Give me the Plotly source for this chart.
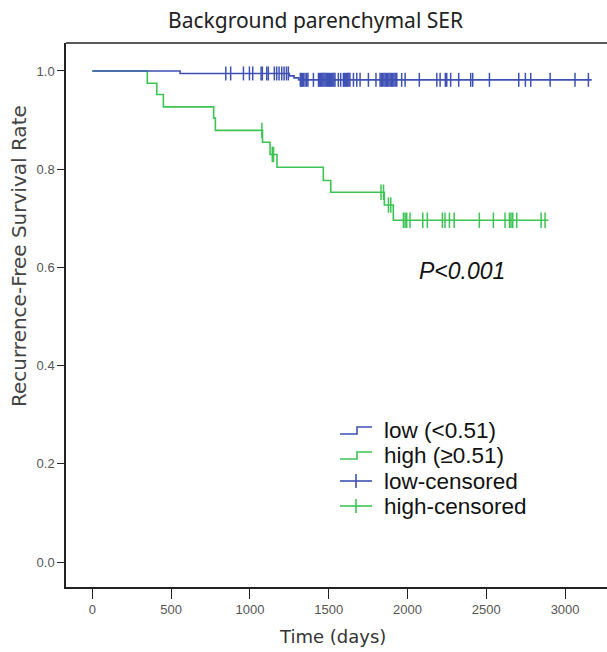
import numpy as np
import plotly.graph_objects as go

# ---------------- data ----------------
low_event_times = [0, 557, 1250, 1280, 1310]
low_levels = [1.0, 0.995, 0.990, 0.986, 0.982]
low_end = 3169
low_censor_times = [
    847, 878, 959, 997, 1018, 1071, 1079, 1107, 1117, 1155, 1170, 1185, 1202, 1217, 1232, 1244,
    1320, 1326, 1333, 1340, 1350, 1360, 1368, 1403,
    1435, 1442, 1449, 1456, 1463, 1470, 1477, 1484, 1491, 1498, 1505, 1512, 1519, 1526, 1533, 1540,
    1561, 1576, 1593, 1600, 1607, 1614, 1621, 1628, 1635, 1657, 1678, 1699, 1752, 1800,
    1826, 1834, 1842, 1850, 1858, 1866, 1874, 1882, 1890, 1898, 1906, 1914, 1922, 1932, 1963, 1985,
    2075, 2186, 2207, 2240, 2249, 2274, 2325, 2401, 2414, 2520, 2706, 2748, 2782, 2905, 3063, 3148,
]

high_event_times = [0, 349, 409, 451, 770, 781, 1080, 1128, 1172, 1466, 1513, 1853, 1910]
high_levels = [1.0, 0.975, 0.952, 0.927, 0.904, 0.879, 0.855, 0.830, 0.804, 0.777, 0.753, 0.727, 0.696]
high_end = 2894
high_censor_times = [
    1076, 1142, 1150, 1832, 1848, 1879, 1894,
    1974, 1985, 1995, 2016, 2097, 2126, 2221, 2238, 2266, 2296,
    2456, 2545, 2619, 2647, 2657, 2668, 2693, 2848, 2873,
]

x_ticks = [0, 500, 1000, 1500, 2000, 2500, 3000]
y_ticks = [0.0, 0.2, 0.4, 0.6, 0.8, 1.0]

title_text = "Background parenchymal SER"
x_title = "Time (days)"
y_title = "Recurrence-Free Survival Rate"
legend_labels = ["low (<0.51)", "high (\u22650.51)", "low-censored", "high-censored"]
p_text = "P<0.001"

BLUE = "#3f51b5"
GREEN = "#3cc453"


def step_xy(times, levels, end):
    xs = list(times) + [end]
    ys = list(levels) + [levels[-1]]
    return xs, ys


def level_at(times, levels, t):
    i = np.searchsorted(np.asarray(times), t, side="right") - 1
    return levels[max(i, 0)]


fig = go.Figure()

lx, ly = step_xy(low_event_times, low_levels, low_end)
hx, hy = step_xy(high_event_times, high_levels, high_end)

fig.add_trace(go.Scatter(x=hx, y=hy, mode="lines", line=dict(color=GREEN, width=1.6, shape="hv"),
                         name=legend_labels[1]))
fig.add_trace(go.Scatter(x=lx, y=ly, mode="lines", line=dict(color=BLUE, width=1.6, shape="hv"),
                         name=legend_labels[0]))

fig.add_trace(go.Scatter(
    x=low_censor_times,
    y=[level_at(low_event_times, low_levels, t) for t in low_censor_times],
    mode="markers",
    marker=dict(symbol="line-ns-open", size=10, color=BLUE, line=dict(color=BLUE, width=1.5)),
    name=legend_labels[2]))
fig.add_trace(go.Scatter(
    x=high_censor_times,
    y=[level_at(high_event_times, high_levels, t) for t in high_censor_times],
    mode="markers",
    marker=dict(symbol="line-ns-open", size=11, color=GREEN, line=dict(color=GREEN, width=1.5)),
    name=legend_labels[3]))

# ---------------- layout ----------------
W, H = 607, 652
L, R, T, B = 66, 0, 43, 65


def px(x):
    return (x - L) / (W - L - R)


def py(y):
    return (H - B - y) / (H - T - B)


shapes = []
# top frame line
shapes.append(dict(type="line", xref="paper", yref="paper", x0=0, x1=1, y0=1, y1=1,
                   line=dict(color="#222", width=1.5)))

# legend glyphs
rows_y = [430, 455, 481, 506]
colors = [BLUE, GREEN, BLUE, GREEN]
x0, xm, x1 = 340, 357, 372
for i, yy in enumerate(rows_y):
    c = colors[i]
    if i < 2:
        pts = [(x0, yy + 4), (xm, yy + 4), (xm, yy - 3), (x1, yy - 3)]
        path = "M " + " L ".join(f"{px(a)},{py(b)}" for a, b in pts)
        shapes.append(dict(type="path", xref="paper", yref="paper", path=path,
                           line=dict(color=c, width=1.6)))
    else:
        shapes.append(dict(type="line", xref="paper", yref="paper", x0=px(x0), x1=px(x1),
                           y0=py(yy), y1=py(yy), line=dict(color=c, width=1.6)))
        shapes.append(dict(type="line", xref="paper", yref="paper", x0=px(xm - 1), x1=px(xm - 1),
                           y0=py(yy - 7), y1=py(yy + 7), line=dict(color=c, width=1.6)))

annotations = []
for lab, yy in zip(legend_labels, rows_y):
    annotations.append(dict(text=lab, xref="paper", yref="paper", x=px(382), y=py(yy),
                            xanchor="left", yanchor="middle", showarrow=False,
                            font=dict(family="Liberation Sans, Arial", size=22.5, color="#111")))

annotations.append(dict(text=title_text, xref="paper", yref="paper", x=px(315), y=py(20),
                        xanchor="center", yanchor="middle", showarrow=False,
                        font=dict(family="Noto Sans", size=21, color="#222")))
annotations.append(dict(text=x_title, xref="paper", yref="paper", x=px(332), y=py(636),
                        xanchor="center", yanchor="middle", showarrow=False,
                        font=dict(family="DejaVu Sans", size=18, color="#333")))
annotations.append(dict(text=y_title, xref="paper", yref="paper", x=px(19), y=py(256),
                        xanchor="center", yanchor="middle", showarrow=False, textangle=-90,
                        font=dict(family="DejaVu Sans", size=20, color="#444")))
annotations.append(dict(text="<i>" + p_text + "</i>", x=2349, y=0.593, xref="x", yref="y",
                        xanchor="center", yanchor="middle", showarrow=False,
                        font=dict(family="Liberation Sans, Arial", size=23, color="#111")))

fig.update_layout(
    width=W, height=H,
    margin=dict(l=L, r=R, t=T, b=B),
    paper_bgcolor="white", plot_bgcolor="white",
    showlegend=False,
    shapes=shapes, annotations=annotations,
    xaxis=dict(range=[-167, 3266], tickvals=x_ticks, ticktext=[str(v) for v in x_ticks],
               showgrid=False, zeroline=False, showline=True, linecolor="#222", linewidth=1.5,
               ticks="outside", ticklen=10, tickwidth=1.3, tickcolor="#222",
               tickfont=dict(family="Liberation Sans, Arial", size=13, color="#555")),
    yaxis=dict(range=[-0.0509, 1.057], tickvals=y_ticks, ticktext=[f"{v:.1f}" for v in y_ticks],
               showgrid=False, zeroline=False, showline=True, linecolor="#222", linewidth=1.5,
               ticks="outside", ticklen=7, tickwidth=1.3, tickcolor="#222",
               tickfont=dict(family="Liberation Sans, Arial", size=13, color="#555")),
)

fig.write_html("out.html",
               config={"displayModeBar": False},
               post_script="document.body.style.margin='0px';document.body.style.overflow='hidden';")
